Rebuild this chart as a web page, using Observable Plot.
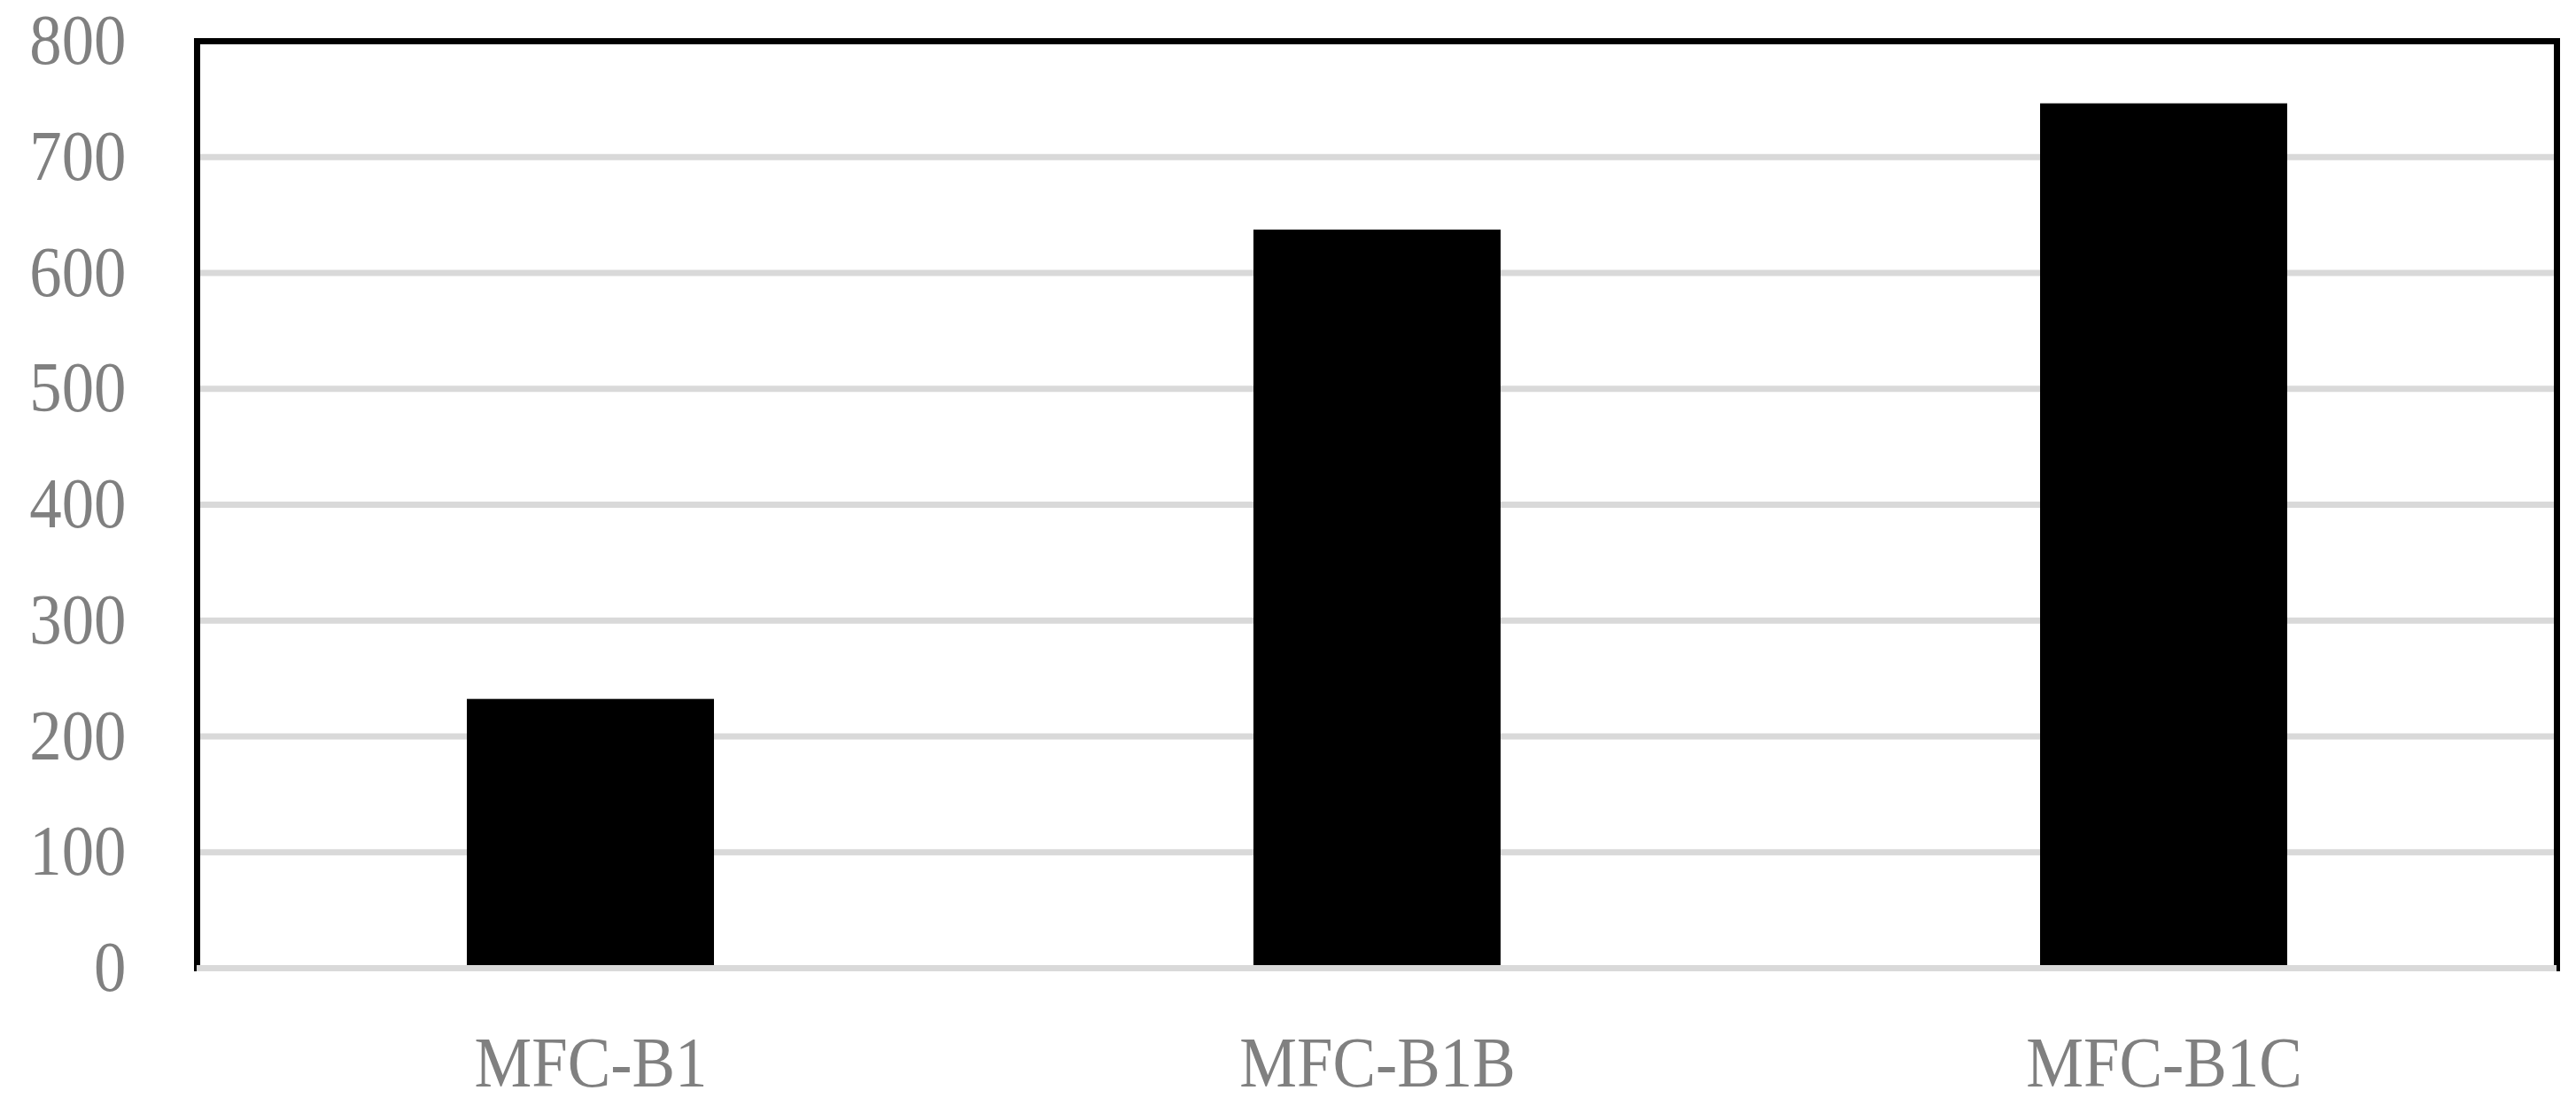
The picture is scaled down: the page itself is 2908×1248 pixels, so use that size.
<!DOCTYPE html>
<html>
<head>
<meta charset="utf-8">
<script src="https://cdn.jsdelivr.net/npm/d3@7"></script>
<script src="https://cdn.jsdelivr.net/npm/@observablehq/plot@0.6"></script>
<style>
  html, body { margin: 0; padding: 0; background: #ffffff; }
  #chart svg { display: block; }
</style>
</head>
<body>
<div id="chart"></div>
<script>
const categories = ["MFC-B1", "MFC-B1B", "MFC-B1C"];
const values = [232, 637, 746];
const yTicks = [0, 100, 200, 300, 400, 500, 600, 700, 800];

const data = categories.map((c, i) => ({category: c, value: values[i]}));

const chart = Plot.plot({
  width: 2908,
  height: 1248,
  marginTop: 46,
  marginLeft: 222,
  marginRight: 22,
  marginBottom: 156,
  style: {
    fontFamily: "'Liberation Serif', 'DejaVu Serif', serif",
    fontSize: "80px",
    color: "#808080",
    background: "#ffffff"
  },
  x: {
    type: "band",
    domain: categories,
    paddingInner: 0.686,
    paddingOuter: 0.343,
    label: null
  },
  y: {
    domain: [0, 800],
    label: null
  },
  marks: [
    Plot.gridY(yTicks.filter(d => d > 0 && d < 800), {stroke: "#d9d9d9", strokeOpacity: 1, strokeWidth: 7}),
    Plot.barY(data, {x: "category", y: "value", fill: "#000000"}),
    Plot.frame({stroke: "#000000", strokeWidth: 7}),
    Plot.ruleY([0], {stroke: "#d9d9d9", strokeWidth: 7}),
    Plot.axisY({ticks: yTicks, tickSize: 0, tickPadding: 80, fill: "#808080", label: null}),
    Plot.axisX({tickSize: 0, tickPadding: 77, fill: "#808080", label: null})
  ]
});

document.getElementById("chart").appendChild(chart);

// condense the serif labels horizontally to match the reference's narrow type
d3.select(chart).selectAll("g[aria-label$='tick label'] text").each(function() {
  const w = this.getComputedTextLength();
  this.setAttribute("textLength", (w * 0.91).toFixed(1));
  this.setAttribute("lengthAdjust", "spacingAndGlyphs");
});
</script>
</body>
</html>
